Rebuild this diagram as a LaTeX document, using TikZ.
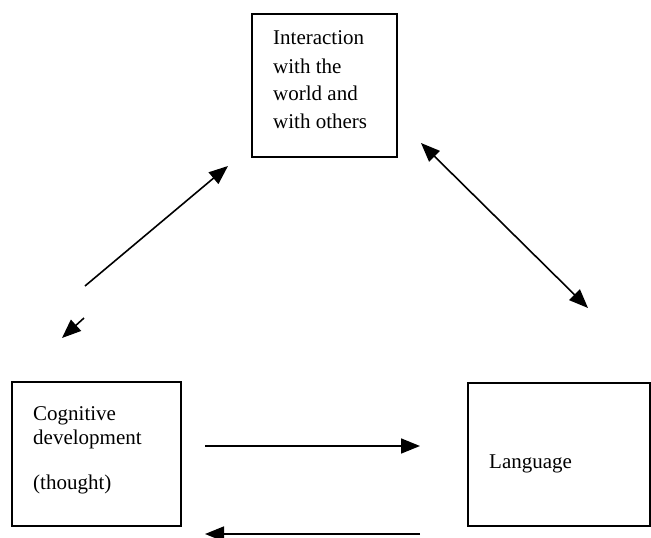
\documentclass[tikz,border=0pt]{standalone}
\usepackage{fontspec}
\setmainfont{Liberation Serif}
\usetikzlibrary{arrows.meta}
\begin{document}
\begin{tikzpicture}[x=1pt,y=-1pt,
  boxshape/.style={draw,line width=1.8pt,rectangle},
  lbl/.style={anchor=base west,inner sep=0pt,font=\fontsize{21}{25}\selectfont},
  conn/.style={line width=1.6pt,-{Triangle[length=19pt,width=15pt]}},
  conn2/.style={line width=1.6pt,{Triangle[length=19pt,width=15pt]}-{Triangle[length=19pt,width=15pt]}}]
\useasboundingbox (0,0) rectangle (651,538);
% boxes
\draw[boxshape] (252,14) rectangle (397,157);
\node[inner sep=0] (top) at (324.5,85.5) {};
\draw[boxshape] (12,382) rectangle (181,526);
\node[inner sep=0] (cog) at (96.5,454) {};
\draw[boxshape] (468,383) rectangle (650,526);
\node[inner sep=0] (lang) at (559,454.5) {};
% texts
\node[lbl] (t1) at (273,45) {Interaction};
\node[lbl] (t2) at (273,73) {with the};
\node[lbl] (t3) at (273,100) {world and};
\node[lbl] (t4) at (273,128) {with others};
\node[lbl] (c1) at (33,420) {Cognitive};
\node[lbl] (c2) at (33,444) {development};
\node[lbl] (c3) at (33,489) {(thought)};
\node[lbl] (l1) at (489,468) {Language};
% connector end points
\coordinate (a1s) at (85,286);
\coordinate (a1e) at (228,166);
\coordinate (a2s) at (84,318);
\coordinate (a2e) at (62,338);
\coordinate (a3s) at (421,143);
\coordinate (a3e) at (588,308);
\coordinate (a4s) at (205,446);
\coordinate (a4e) at (420,446);
\coordinate (a5s) at (420,534);
\coordinate (a5e) at (205,534);
% connectors
\draw[conn] (a1s) -- (a1e);
\draw[conn] (a2s) -- (a2e);
\draw[conn2] (a3s) -- (a3e);
\draw[conn] (a4s) -- (a4e);
\draw[conn] (a5s) -- (a5e);
\end{tikzpicture}
\end{document}
